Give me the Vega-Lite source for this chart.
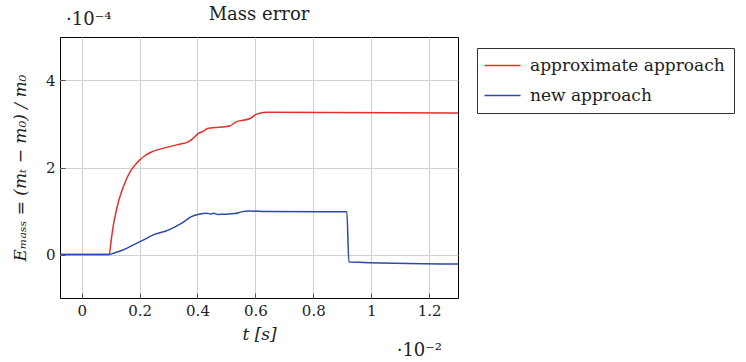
{
  "$schema": "https://vega.github.io/schema/vega-lite/v6.json",
  "width": 398,
  "height": 261,
  "autosize": {"type": "none"},
  "padding": {"left": 60, "top": 37, "right": 288, "bottom": 64},
  "background": "white",
  "config": {
    "font": "DejaVu Serif",
    "view": {"stroke": "black", "strokeWidth": 1},
    "axis": {
      "labelFont": "DejaVu Serif",
      "titleFont": "DejaVu Serif",
      "labelFontSize": 15,
      "titleFontSize": 17,
      "titleFontWeight": "normal",
      "labelColor": "#222",
      "titleColor": "#222",
      "domain": false,
      "tickColor": "#555",
      "tickSize": -5,
      "labelPadding": 10,
      "gridColor": "#d0d0d0",
      "gridWidth": 1
    }
  },
  "title": {
    "text": "Mass error",
    "font": "DejaVu Serif",
    "fontSize": 18,
    "fontWeight": "normal",
    "color": "#222",
    "anchor": "middle",
    "offset": -13
  },
  "datasets": {
    "curves": [
      {"t": -0.075, "v": 0, "s": "approximate approach"},
      {"t": 0.095, "v": 0, "s": "approximate approach"},
      {"t": 0.102, "v": 0.33, "s": "approximate approach"},
      {"t": 0.109, "v": 0.66, "s": "approximate approach"},
      {"t": 0.117, "v": 0.93, "s": "approximate approach"},
      {"t": 0.126, "v": 1.19, "s": "approximate approach"},
      {"t": 0.137, "v": 1.43, "s": "approximate approach"},
      {"t": 0.149, "v": 1.645, "s": "approximate approach"},
      {"t": 0.16, "v": 1.81, "s": "approximate approach"},
      {"t": 0.172, "v": 1.95, "s": "approximate approach"},
      {"t": 0.186, "v": 2.07, "s": "approximate approach"},
      {"t": 0.201, "v": 2.175, "s": "approximate approach"},
      {"t": 0.218, "v": 2.27, "s": "approximate approach"},
      {"t": 0.236, "v": 2.34, "s": "approximate approach"},
      {"t": 0.258, "v": 2.4, "s": "approximate approach"},
      {"t": 0.281, "v": 2.44, "s": "approximate approach"},
      {"t": 0.328, "v": 2.52, "s": "approximate approach"},
      {"t": 0.368, "v": 2.59, "s": "approximate approach"},
      {"t": 0.385, "v": 2.67, "s": "approximate approach"},
      {"t": 0.402, "v": 2.78, "s": "approximate approach"},
      {"t": 0.419, "v": 2.83, "s": "approximate approach"},
      {"t": 0.437, "v": 2.9, "s": "approximate approach"},
      {"t": 0.511, "v": 2.955, "s": "approximate approach"},
      {"t": 0.534, "v": 3.05, "s": "approximate approach"},
      {"t": 0.58, "v": 3.12, "s": "approximate approach"},
      {"t": 0.603, "v": 3.22, "s": "approximate approach"},
      {"t": 0.638, "v": 3.27, "s": "approximate approach"},
      {"t": 1.3, "v": 3.25, "s": "approximate approach"},
      {"t": -0.075, "v": 0, "s": "new approach"},
      {"t": 0.095, "v": 0, "s": "new approach"},
      {"t": 0.115, "v": 0.04, "s": "new approach"},
      {"t": 0.144, "v": 0.11, "s": "new approach"},
      {"t": 0.178, "v": 0.22, "s": "new approach"},
      {"t": 0.212, "v": 0.33, "s": "new approach"},
      {"t": 0.247, "v": 0.45, "s": "new approach"},
      {"t": 0.299, "v": 0.56, "s": "new approach"},
      {"t": 0.35, "v": 0.74, "s": "new approach"},
      {"t": 0.379, "v": 0.87, "s": "new approach"},
      {"t": 0.408, "v": 0.93, "s": "new approach"},
      {"t": 0.431, "v": 0.95, "s": "new approach"},
      {"t": 0.448, "v": 0.93, "s": "new approach"},
      {"t": 0.456, "v": 0.95, "s": "new approach"},
      {"t": 0.471, "v": 0.92, "s": "new approach"},
      {"t": 0.488, "v": 0.925, "s": "new approach"},
      {"t": 0.529, "v": 0.94, "s": "new approach"},
      {"t": 0.552, "v": 0.98, "s": "new approach"},
      {"t": 0.58, "v": 1.0, "s": "new approach"},
      {"t": 0.638, "v": 0.99, "s": "new approach"},
      {"t": 0.916, "v": 0.98, "s": "new approach"},
      {"t": 0.923, "v": -0.17, "s": "new approach"},
      {"t": 1.3, "v": -0.22, "s": "new approach"}
    ],
    "notes": [
      {"t": -0.075, "v": 5, "label": "·10⁻⁴"},
      {"t": 1.3, "v": -1, "label": "·10⁻²"}
    ]
  },
  "layer": [
    {
      "data": {"name": "curves"},
      "mark": {"type": "line", "strokeWidth": 1.5, "clip": true, "interpolate": "monotone"},
      "encoding": {
        "x": {
          "field": "t",
          "type": "quantitative",
          "scale": {"domain": [-0.075, 1.3], "nice": false, "zero": false},
          "axis": {
            "values": [0, 0.2, 0.4, 0.6, 0.8, 1, 1.2],
            "format": "~g",
            "title": "t [s]",
            "titleFontStyle": "italic",
            "titlePadding": 8
          }
        },
        "y": {
          "field": "v",
          "type": "quantitative",
          "scale": {"domain": [-1, 5], "nice": false},
          "axis": {
            "values": [0, 2, 4],
            "title": "Eₘₐₛₛ = (mₜ − m₀) / m₀",
            "titleFontStyle": "italic",
            "titlePadding": 16
          }
        },
        "color": {
          "field": "s",
          "type": "nominal",
          "scale": {
            "domain": ["approximate approach", "new approach"],
            "range": ["#e3302a", "#2d4aa5"]
          },
          "legend": {
            "title": null,
            "orient": "none",
            "legendX": 417,
            "legendY": 11,
            "symbolType": "M-3,0L3,0",
            "symbolSize": 144,
            "symbolStrokeWidth": 1.5,
            "symbolOffset": 8,
            "labelFont": "DejaVu Serif",
            "labelFontSize": 17,
            "labelColor": "#222",
            "labelLimit": 300,
            "labelOffset": 19,
            "rowPadding": 12,
            "padding": 9,
            "strokeColor": "#333",
            "fillColor": "white"
          }
        }
      }
    },
    {
      "data": {"name": "notes"},
      "transform": [{"filter": "datum.t < 0"}],
      "mark": {"type": "text", "fontSize": 18, "font": "DejaVu Serif", "color": "#222", "baseline": "bottom", "align": "left", "dx": 6, "dy": -8},
      "encoding": {
        "x": {"field": "t", "type": "quantitative"},
        "y": {"field": "v", "type": "quantitative"},
        "text": {"field": "label"}
      }
    },
    {
      "data": {"name": "notes"},
      "transform": [{"filter": "datum.t > 0"}],
      "mark": {"type": "text", "fontSize": 18, "font": "DejaVu Serif", "color": "#222", "baseline": "bottom", "align": "right", "dx": -16, "dy": 62},
      "encoding": {
        "x": {"field": "t", "type": "quantitative"},
        "y": {"field": "v", "type": "quantitative"},
        "text": {"field": "label"}
      }
    }
  ]
}
